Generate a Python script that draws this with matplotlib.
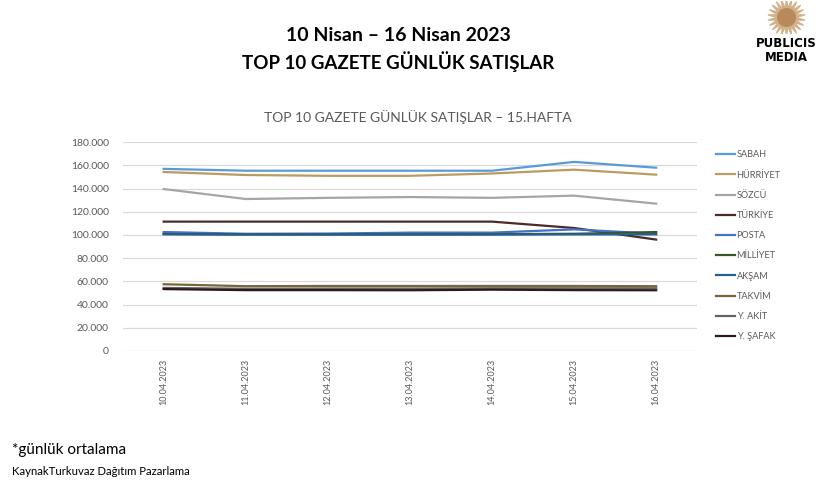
import numpy as np
import matplotlib
matplotlib.use('Agg')
import matplotlib.pyplot as plt
from matplotlib.ticker import FuncFormatter

# Veri
dates = ['10.04.2023', '11.04.2023', '12.04.2023', '13.04.2023',
         '14.04.2023', '15.04.2023', '16.04.2023']
names = ['SABAH', 'HÜRRİYET', 'SÖZCÜ', 'TÜRKİYE', 'POSTA',
         'MİLLİYET', 'AKŞAM', 'TAKVİM', 'Y. AKİT', 'Y. ŞAFAK']
sabah = [157000, 155400, 155400, 155400, 155400, 163000, 158000]
hurriyet = [154300, 151700, 151000, 151000, 153000, 156300, 152000]
sozcu = [139600, 131000, 132000, 132700, 132000, 133900, 127000]
turkiye = [111500, 111500, 111500, 111500, 111500, 106000, 96000]
posta = [102500, 101000, 101200, 102000, 102000, 104800, 101000]
milliyet = [100800, 100500, 100500, 100600, 100700, 101000, 102500]
aksam = [100600, 100300, 100300, 100300, 100300, 100500, 100500]
takvim = [57500, 55800, 56000, 56000, 56000, 56000, 55800]
yakit = [54300, 53600, 53800, 53800, 54000, 54000, 54000]
ysafak = [53300, 52400, 52400, 52300, 52800, 52400, 52300]
series = [sabah, hurriyet, sozcu, turkiye, posta, milliyet, aksam, takvim, yakit, ysafak]
colors = ['#5B9BD5', '#B99C62', '#A5A5A5', '#4A2A2A', '#4472C4',
          '#375623', '#255E91', '#7B6436', '#636363', '#2B1B1B']

plt.rcParams['font.family'] = ['Lato', 'DejaVu Sans']

fig = plt.figure(figsize=(8.4, 4.82), dpi=100)
ax = fig.add_axes([0.146, 0.272, 0.684, 0.433])

x = np.arange(len(dates))
for vals, name, c in zip(series, names, colors):
    ax.plot(x, vals, color=c, lw=1.6, label=name)

ax.set_xlim(-0.5, len(dates) - 0.5)
ax.set_ylim(0, 180000)
ax.set_yticks(np.arange(0, 180001, 20000))
ax.yaxis.set_major_formatter(FuncFormatter(lambda v, p: f'{int(v):,}'.replace(',', '.')))
ax.set_xticks(x)
ax.set_xticklabels(dates, rotation=90, fontsize=6.5, color='#595959')
ax.tick_params(axis='y', labelsize=7.5, colors='#595959', length=0, pad=10)
ax.tick_params(axis='x', length=0, pad=6)
ax.grid(axis='y', color='#D9D9D9', lw=0.9)
for s in ax.spines.values():
    s.set_visible(False)

ax.legend(loc='upper left', bbox_to_anchor=(0.842, 0.705), bbox_transform=fig.transFigure,
          frameon=False, fontsize=6.6, handlelength=2.1, handletextpad=0.2,
          labelspacing=1.22, labelcolor='#595959')

# Başlıklar
fig.text(0.474, 0.927, '10 Nisan – 16 Nisan 2023', ha='center', va='center',
         fontsize=14, fontweight='bold')
fig.text(0.474, 0.872, 'TOP 10 GAZETE GÜNLÜK SATIŞLAR', ha='center', va='center',
         fontsize=13.5, fontweight='bold')
fig.text(0.497, 0.758, 'TOP 10 GAZETE GÜNLÜK SATIŞLAR – 15.HAFTA', ha='center', va='center',
         fontsize=10, color='#595959')

fig.text(0.014, 0.066, '*günlük ortalama', fontsize=11, va='center')
fig.text(0.014, 0.022, 'KaynakTurkuvaz Dağıtım Pazarlama', fontsize=8.2, va='center')

# Logo
fig.text(0.936, 0.91, 'PUBLICIS', ha='center', va='center', fontsize=8.5,
         fontweight='bold', family='DejaVu Sans')
fig.text(0.936, 0.88, 'MEDIA', ha='center', va='center', fontsize=8.5,
         fontweight='bold', family='DejaVu Sans')
lax = fig.add_axes([0.9, 0.932, 0.072, 0.066])
lax.scatter([0], [0], marker=(22, 1, 0), s=700, color='#D1B08A')
lax.scatter([0], [0], s=160, color='#B8895A')
lax.set_xlim(-1, 1)
lax.set_ylim(-1, 1)
lax.axis('off')

fig.savefig('out.png', dpi=100)
